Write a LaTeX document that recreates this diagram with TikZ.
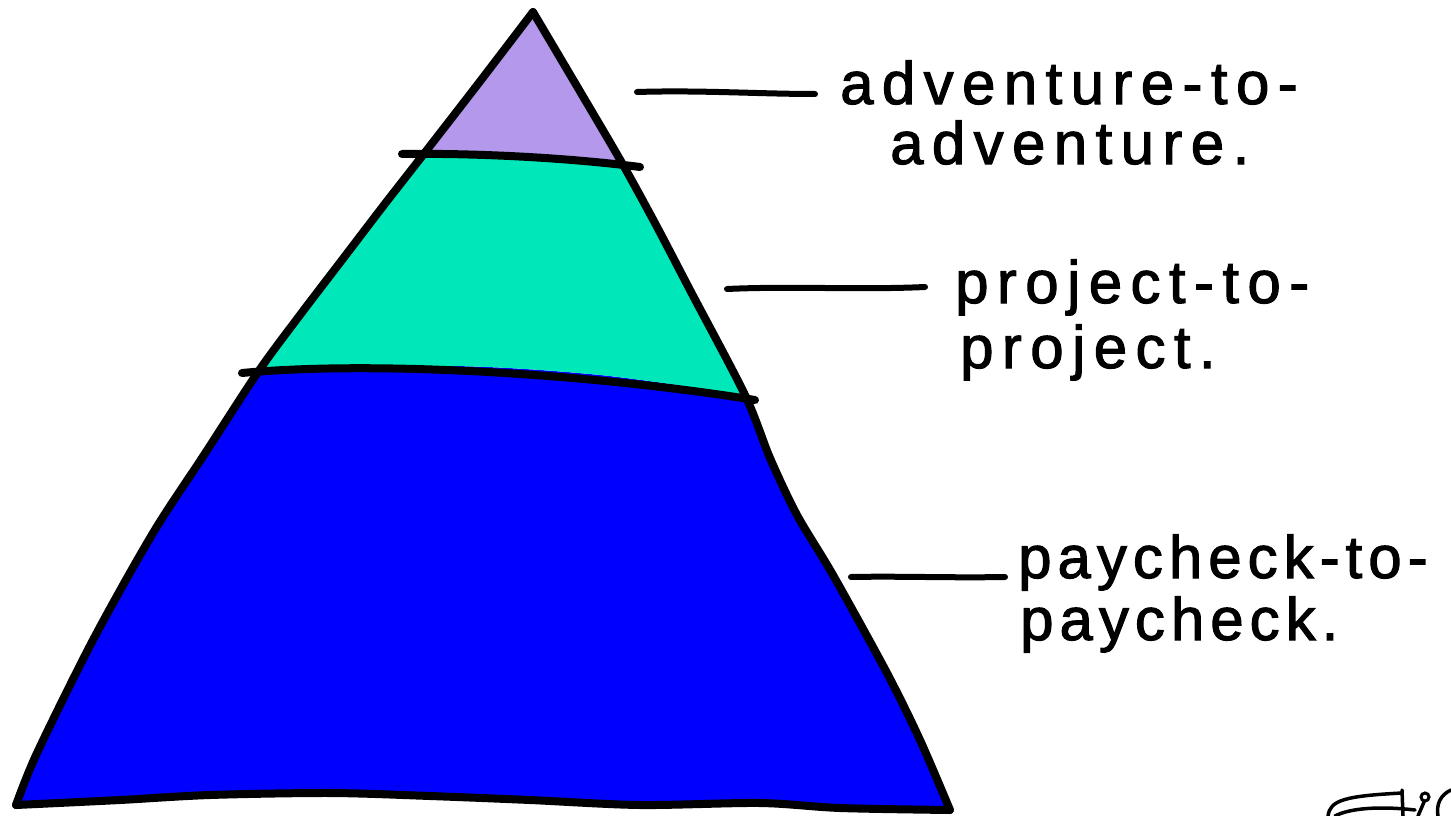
\documentclass[tikz,border=0pt]{standalone}
\usepackage{fontspec}
\setmainfont{Liberation Sans}[LetterSpace=14, FakeBold=1.8]
\newfontfamily\tightfam{Liberation Sans}[LetterSpace=10, FakeBold=1.8]
\definecolor{toppurple}{RGB}{179,152,235}
\definecolor{midgreen}{RGB}{0,232,186}
\definecolor{basblue}{RGB}{0,0,255}
\tikzset{
  ink/.style={line width=8pt, line cap=round, line join=round, black},
  tick/.style={line width=6pt, line cap=round, black},
  lbl/.style={anchor=base west, inner sep=0pt, font=\fontsize{60}{64}\selectfont},
  tlbl/.style={anchor=base west, inner sep=0pt, font=\tightfam\fontsize{60}{64}\selectfont},
}
\begin{document}
\begin{tikzpicture}[x=1pt,y=-1pt]
\useasboundingbox (0,0) rectangle (1451,816);
\clip (0,0) rectangle (1451,816);
% fills
\fill[basblue] plot[smooth] coordinates {(258,372)(204,455)(153,533)(93,640)(37,753)(16,805)}
  -- plot[smooth] coordinates {(16,805)(120,800)(210,795)(330,793)(430,796)(530,800)(640,805)(760,803)(840,808)(950,810)}
  -- plot[smooth] coordinates {(950,810)(920,740)(887,673)(833,575)(797,515)(770,458)(745,395)}
  -- plot[smooth] coordinates {(745,395)(600,375)(450,366)(258,372)} -- cycle;
\fill[midgreen] plot[smooth] coordinates {(423,155)(384,205)(342,260)(300,315)(258,372)}
  -- plot[smooth] coordinates {(258,372)(450,366)(600,375)(745,395)}
  -- plot[smooth] coordinates {(745,395)(690,290)(656,225)(622,163)}
  -- plot[smooth] coordinates {(622,163)(530,157)(423,155)} -- cycle;
\fill[toppurple] (533,12) -- plot[smooth] coordinates {(533,12)(478,84)(423,155)}
  -- plot[smooth] coordinates {(423,155)(530,157)(622,163)}
  -- plot[smooth] coordinates {(622,163)(578,88)(533,12)} -- cycle;
% outline
\coordinate (apex) at (533,12);
\coordinate (bl) at (16,805);
\coordinate (br) at (950,810);
\draw[ink] plot[smooth] coordinates {(533,12)(478,84)(423,155)(384,205)(342,260)(300,315)(258,372)(204,455)(153,533)(93,640)(37,753)(16,805)};
\draw[ink] plot[smooth] coordinates {(533,12)(578,88)(622,163)(656,225)(690,290)(745,395)(770,458)(797,515)(833,575)(887,673)(920,740)(950,810)};
\draw[ink] plot[smooth] coordinates {(16,805)(120,800)(210,795)(330,793)(430,796)(530,800)(640,805)(760,803)(840,808)(950,810)};
% dividers
\coordinate (d1a) at (402,154);
\coordinate (d1b) at (640,167);
\coordinate (d2a) at (242,373);
\coordinate (d2b) at (755,400);
\draw[ink] (d1a) .. controls (480,153) and (570,158) .. (d1b);
\draw[ink] (d2a) .. controls (380,360) and (600,375) .. (d2b);
% labels
\node[lbl] (t1a) at (840,104) {adventure-to-};
\node[lbl] (t1b) at (890,164) {adventure.};
\node[lbl] (t2a) at (955,303) {project-to-};
\node[lbl] (t2b) at (960,368) {project.};
\node[tlbl] (t3a) at (1018,578) {paycheck-to-};
\node[tlbl] (t3b) at (1020,640) {paycheck.};
\coordinate (l1) at (637,92);
\coordinate (l2) at (727,289);
\coordinate (l3) at (851,577);
\draw[tick] (l1) .. controls (700,90) and (760,94) .. (815,94);
\draw[tick] (l2) .. controls (790,286) and (860,290) .. (925,287);
\draw[tick] (l3) .. controls (900,576) and (950,578) .. (1005,577);
% signature (cut off)
\draw[line width=3.5pt, line cap=round] (1328,816) .. controls (1330,800) and (1345,796) .. (1402,793);
\draw[line width=3.5pt, line cap=round] (1402,790) -- (1403,816);
\draw[line width=3.5pt, line cap=round] (1335,816) .. controls (1350,808) and (1380,806) .. (1415,810);
\draw[line width=3pt] (1425,797) circle (4);
\draw[line width=3.5pt, line cap=round] (1424,802) -- (1418,816);
\draw[line width=3.5pt, line cap=round] (1451,790) .. controls (1440,795) and (1436,805) .. (1438,816);
\end{tikzpicture}
\end{document}
